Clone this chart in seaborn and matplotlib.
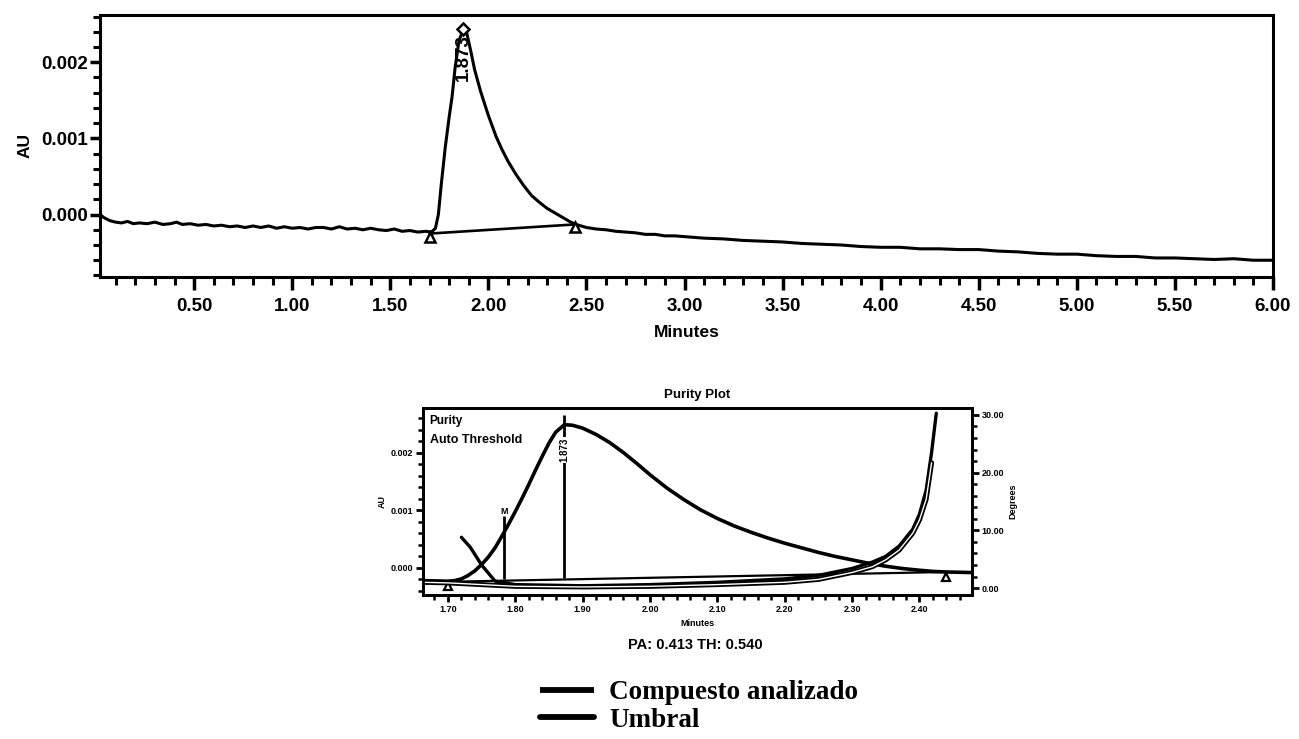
import numpy as np
import pandas as pd
import seaborn as sns
import matplotlib
matplotlib.use("Agg")
import matplotlib.pyplot as plt
from matplotlib.lines import Line2D
from matplotlib.ticker import MultipleLocator, FormatStrFormatter

sns.set_theme(style="white")
plt.rcParams["font.family"] = ["Liberation Sans", "DejaVu Sans"]
plt.rcParams["font.weight"] = "bold"
for key in ("text.color", "axes.labelcolor", "xtick.color", "ytick.color",
            "axes.edgecolor"):
    plt.rcParams[key] = "black"

# ---------------- Chromatogram (full run) ----------------
chrom_time = [
    0.02, 0.04, 0.07, 0.10, 0.13, 0.16, 0.19, 0.22, 0.26, 0.30, 0.34, 0.38, 0.41, 0.44,
    0.48, 0.52, 0.56, 0.60, 0.64, 0.68, 0.72, 0.76, 0.80, 0.84, 0.88, 0.92, 0.96, 1.00,
    1.04, 1.08, 1.12, 1.16, 1.20, 1.24, 1.28, 1.32, 1.36, 1.40, 1.44, 1.48, 1.52, 1.56,
    1.60, 1.64, 1.68, 1.71, 1.73, 1.745, 1.76, 1.78, 1.80, 1.815, 1.83, 1.85, 1.873,
    1.89, 1.91, 1.93, 1.96, 2.00, 2.04, 2.07, 2.10, 2.14, 2.18, 2.22, 2.26, 2.30, 2.34,
    2.38, 2.42, 2.46, 2.50, 2.55, 2.60, 2.65, 2.70, 2.75, 2.80, 2.85, 2.90, 2.95, 3.00,
    3.10, 3.20, 3.30, 3.40, 3.50, 3.60, 3.70, 3.80, 3.90, 4.00, 4.10, 4.20, 4.30, 4.40,
    4.50, 4.60, 4.70, 4.80, 4.90, 5.00, 5.10, 5.20, 5.30, 5.40, 5.50, 5.60, 5.70, 5.80,
    5.90, 6.00,
]
chrom_au = [
    0.00000, -0.00004, -0.00008, -0.00010, -0.00011, -0.00009, -0.00012, -0.00011,
    -0.00012, -0.00010, -0.00013, -0.00012, -0.00010, -0.00013, -0.00012, -0.00014,
    -0.00013, -0.00015, -0.00014, -0.00016, -0.00015, -0.00017, -0.00015, -0.00017,
    -0.00015, -0.00018, -0.00016, -0.00018, -0.00017, -0.00019, -0.00017, -0.00017,
    -0.00019, -0.00016, -0.00019, -0.00018, -0.00020, -0.00018, -0.00020, -0.00021,
    -0.00019, -0.00022, -0.00021, -0.00023, -0.00022, -0.00023, -0.00018, 0.00000,
    0.00040, 0.00088, 0.00128, 0.00155, 0.00192, 0.00228, 0.00244, 0.00238, 0.00215,
    0.00190, 0.00162, 0.00130, 0.00102, 0.00085, 0.00070, 0.00053, 0.00038, 0.00025,
    0.00016, 0.00008, 0.00002, -0.00004, -0.00010, -0.00014, -0.00017, -0.00019,
    -0.00020, -0.00022, -0.00023, -0.00024, -0.00026, -0.00026, -0.00028, -0.00028,
    -0.00029, -0.00031, -0.00032, -0.00034, -0.00035, -0.00036, -0.00038, -0.00039,
    -0.00040, -0.00042, -0.00043, -0.00043, -0.00045, -0.00045, -0.00046, -0.00046,
    -0.00048, -0.00049, -0.00051, -0.00052, -0.00052, -0.00054, -0.00055, -0.00055,
    -0.00057, -0.00057, -0.00058, -0.00059, -0.00058, -0.00060, -0.00060,
]
peak_rt = 1.873
peak_apex_au = 0.00244
peak_bounds_time = [1.70, 2.44]
peak_bounds_au = [-0.00025, -0.00013]

# ---------------- Purity plot (peak window) ----------------
pur_time = [1.663, 1.700, 1.710, 1.720, 1.730, 1.740, 1.750, 1.760, 1.770, 1.780,
            1.790, 1.800, 1.810, 1.820, 1.830, 1.840, 1.850, 1.860, 1.873, 1.885,
            1.900, 1.920, 1.940, 1.960, 1.980, 2.000, 2.025, 2.050, 2.075, 2.100,
            2.125, 2.150, 2.175, 2.200, 2.225, 2.250, 2.275, 2.300, 2.325, 2.350,
            2.375, 2.400, 2.420, 2.440, 2.478]
pur_au = [-0.00022, -0.00023, -0.00022, -0.00019, -0.00013, -0.00005, 0.00006,
          0.00019, 0.00035, 0.00055, 0.00076, 0.00098, 0.00121, 0.00145, 0.00170,
          0.00194, 0.00217, 0.00236, 0.00249, 0.00248, 0.00243, 0.00232, 0.00218,
          0.00201, 0.00182, 0.00162, 0.00139, 0.00119, 0.00101, 0.00086, 0.00073,
          0.00062, 0.00052, 0.00043, 0.00035, 0.00027, 0.00020, 0.00014, 0.00008,
          0.00003, -0.00001, -0.00004, -0.00006, -0.00007, -0.00008]

angle_time = [1.720, 1.733, 1.750, 1.770, 1.800, 1.900, 2.000, 2.100, 2.200, 2.250,
              2.300, 2.330, 2.350, 2.370, 2.390, 2.400, 2.410, 2.418, 2.425]
angle_deg = [8.8, 7.1, 4.0, 1.2, 0.6, 0.4, 0.6, 1.0, 1.6, 2.2, 3.4, 4.5, 5.5, 7.3, 10.2,
             12.8, 17.0, 23.5, 30.3]

thresh_time = [1.663, 1.700, 1.800, 1.900, 2.000, 2.100, 2.200, 2.250, 2.300, 2.330,
               2.350, 2.370, 2.390, 2.400, 2.410, 2.418]
thresh_deg = [1.0, 0.9, 0.3, 0.2, 0.3, 0.6, 1.0, 1.5, 2.7, 3.7, 4.9, 6.6, 9.5, 11.8,
              15.4, 21.7]

pur_bounds_time = [1.70, 2.44]
pur_bounds_au = [-0.00024, -0.00007]
split_time = 1.783
split_au = 0.00090
purity_angle = 0.413
purity_threshold = 0.540

legend_labels = ["Compuesto analizado", "Umbral"]

# ---------------- Figure ----------------
fig = plt.figure(figsize=(12.99, 7.39), dpi=100)
BLACK = "black"

ax1 = fig.add_axes([100 / 1299, 1 - 277 / 739, 1173 / 1299, 262 / 739])
sns.lineplot(x=chrom_time, y=chrom_au, ax=ax1, color=BLACK, lw=2.2,
             estimator=None, sort=False)
sns.lineplot(x=peak_bounds_time, y=peak_bounds_au, ax=ax1, color=BLACK, lw=1.9,
             estimator=None, sort=False)
ax1.plot(peak_bounds_time, [v - 0.00004 for v in peak_bounds_au], ls="none",
         marker="^", ms=7, mfc="white", mec=BLACK, mew=1.8)
ax1.plot([peak_rt], [peak_apex_au], ls="none", marker="D", ms=6, mfc="white",
         mec=BLACK, mew=1.8)
ax1.text(peak_rt, peak_apex_au - 0.00007, f"{peak_rt:.3f}", rotation=90,
         ha="center", va="top", fontsize=13.5, fontweight="bold", color=BLACK)

ax1.set_xlim(0.02, 6.0)
ax1.set_ylim(-0.00082, 0.00262)
ax1.xaxis.set_major_locator(MultipleLocator(0.5))
ax1.xaxis.set_minor_locator(MultipleLocator(0.1))
ax1.yaxis.set_major_locator(MultipleLocator(0.001))
ax1.yaxis.set_minor_locator(MultipleLocator(0.0002))
ax1.xaxis.set_major_formatter(FormatStrFormatter("%.2f"))
ax1.yaxis.set_major_formatter(FormatStrFormatter("%.3f"))
ax1.tick_params(which="major", direction="out", length=9, width=2.5,
                labelsize=13.5, pad=6, color=BLACK, labelcolor=BLACK)
ax1.tick_params(which="minor", direction="out", length=6, width=2.2, color=BLACK)
ax1.tick_params(axis="y", which="major", length=7, pad=2)
ax1.tick_params(axis="y", which="minor", length=5)
ax1.tick_params(bottom=True, left=True, which="both")
for lab in ax1.get_xticklabels() + ax1.get_yticklabels():
    lab.set_fontweight("bold")
ax1.set_xlabel("Minutes", fontsize=12.5, fontweight="bold", labelpad=7, color=BLACK)
ax1.set_ylabel("AU", fontsize=12.5, fontweight="bold", labelpad=6, color=BLACK)
for sp in ax1.spines.values():
    sp.set_visible(True)
    sp.set_color(BLACK)
    sp.set_linewidth(2.2)

# Purity plot
ax2 = fig.add_axes([423 / 1299, 1 - 595 / 739, 549 / 1299, 187 / 739])
ax2r = ax2.twinx()
sns.lineplot(x=pur_time, y=pur_au, ax=ax2, color=BLACK, lw=2.6,
             estimator=None, sort=False)
sns.lineplot(x=pur_bounds_time, y=pur_bounds_au, ax=ax2, color=BLACK, lw=1.6,
             estimator=None, sort=False)
ax2.plot(pur_bounds_time, [v - 0.00008 for v in pur_bounds_au], ls="none",
         marker="^", ms=5.5, mfc="white", mec=BLACK, mew=1.6)
ax2.vlines([peak_rt], -0.00018, 0.00265, color=BLACK, lw=2.0)
ax2.text(peak_rt, 0.00205, f"{peak_rt:.3f}", rotation=90, ha="center", va="center",
         fontsize=7, fontweight="bold", color=BLACK,
         bbox=dict(boxstyle="square,pad=0.05", fc="white", ec="none"))
ax2.vlines([split_time], -0.00019, split_au, color=BLACK, lw=2.0)
ax2.text(split_time, split_au, "M", ha="center", va="bottom", fontsize=6.5,
         fontweight="bold", color=BLACK)

sns.lineplot(x=angle_time, y=angle_deg, ax=ax2r, color=BLACK, lw=2.4,
             estimator=None, sort=False)
sns.lineplot(x=thresh_time, y=thresh_deg, ax=ax2r, color=BLACK, lw=3.6,
             estimator=None, sort=False)
ax2r.plot(thresh_time, thresh_deg, color="white", lw=1.0)

ax2.text(0.012, 0.965, "Purity", transform=ax2.transAxes, ha="left", va="top",
         fontsize=8.5, fontweight="bold", color=BLACK)
ax2.text(0.012, 0.86, "Auto Threshold", transform=ax2.transAxes, ha="left",
         va="top", fontsize=9, fontweight="bold", color=BLACK)

ax2.set_xlim(1.663, 2.478)
ax2.set_ylim(-0.00047, 0.00278)
ax2r.set_ylim(-1.2, 31.2)
ax2.xaxis.set_major_locator(MultipleLocator(0.1))
ax2.xaxis.set_minor_locator(MultipleLocator(0.02))
ax2.yaxis.set_major_locator(MultipleLocator(0.001))
ax2.yaxis.set_minor_locator(MultipleLocator(0.0002))
ax2r.yaxis.set_major_locator(MultipleLocator(10))
ax2r.yaxis.set_minor_locator(MultipleLocator(2))
ax2.xaxis.set_major_formatter(FormatStrFormatter("%.2f"))
ax2.yaxis.set_major_formatter(FormatStrFormatter("%.3f"))
ax2r.yaxis.set_major_formatter(FormatStrFormatter("%.2f"))
for a in (ax2, ax2r):
    a.tick_params(which="major", direction="out", length=5, width=2.0, labelsize=6.5,
                  pad=2, color=BLACK, labelcolor=BLACK)
    a.tick_params(which="minor", direction="out", length=3.5, width=1.8, color=BLACK)
    for sp in a.spines.values():
        sp.set_visible(True)
        sp.set_color(BLACK)
        sp.set_linewidth(2.0)
ax2.tick_params(bottom=True, left=True, which="both")
ax2r.tick_params(right=True, which="both")
for lab in ax2.get_xticklabels() + ax2.get_yticklabels() + ax2r.get_yticklabels():
    lab.set_fontweight("bold")
ax2.set_xlabel("Minutes", fontsize=6.5, fontweight="bold", labelpad=4, color=BLACK)
ax2.set_ylabel("AU", fontsize=6.5, fontweight="bold", labelpad=3, color=BLACK)
ax2r.set_ylabel("Degrees", fontsize=6.5, fontweight="bold", labelpad=3, color=BLACK)
ax2.set_title("Purity Plot", fontsize=9.5, fontweight="bold", pad=7, color=BLACK)
fig.text(695 / 1299, 1 - 645 / 739,
         f"PA: {purity_angle:.3f} TH: {purity_threshold:.3f}",
         ha="center", va="center", fontsize=10.5, fontweight="bold", color=BLACK)

# Legend
handles = [Line2D([], [], color=BLACK, lw=4.2, solid_capstyle="butt"),
           Line2D([], [], color=BLACK, lw=4.2, solid_capstyle="round")]
fig.legend(handles, legend_labels, loc="upper left",
           bbox_to_anchor=(540 / 1299, 1 - 680 / 739), frameon=False,
           handlelength=2.0, handletextpad=0.55, labelspacing=0.1,
           borderpad=0.0, borderaxespad=0.0,
           prop={"family": "Liberation Serif", "weight": "bold", "size": 19.5})

fig.savefig("out.png", dpi=100, facecolor="white")
